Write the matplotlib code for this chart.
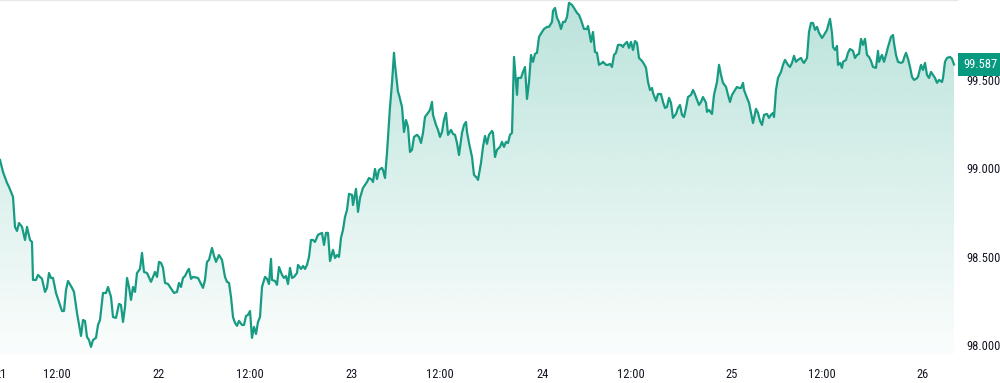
import numpy as np
import matplotlib
matplotlib.use("Agg")
import matplotlib.pyplot as plt
from matplotlib.patches import Polygon
from matplotlib.transforms import blended_transform_factory

# ---- data (bar position along the time axis, price) ----
bars = [0,3,7,9,13,15,17,19,22,25,27,30,32,33,36,38,42,45,47,49,51,53,56,59,62,64,66,68,72,74,77,81,83,85,87,89,91,93,96,98,
        100,103,106,108,111,113,116,119,121,123,125,127,129,131,133,135,137,140,142,144,147,151,153,155,157,159,161,163,165,168,
        172,174,177,179,181,183,185,188,189,191,193,198,203,205,207,209,212,214,216,219,222,225,227,229,231,233,235,237,239,242,
        244,246,248,250,252,254,256,258,260,262,265,267,269,271,272,275,277,279,282,284,286,288,290,292,294,297,298,301,303,305,
        307,309,311,313,315,318,322,324,326,328,330,333,335,337,339,341,343,345,347,349,352,353,356,358,360,363,367,369,372,373,
        375,377,379,382,383,385,387,390,392,394,395,398,399,402,404,406,408,410,412,414,417,419,421,423,425,428,430,432,433,436,
        438,440,442,444,446,448,451,453,455,457,459,462,464,466,467,469,472,474,477,478,481,483,485,487,489,492,493,495,497,500,
        502,504,506,508,510,512,514,517,518,521,523,525,527,529,531,533,535,537,539,542,544,547,549,552,553,555,557,559,561,563,
        565,567,569,572,574,577,579,581,584,587,588,591,593,595,597,599,602,603,606,608,610,612,614,616,618,621,623,624,627,629,
        631,633,635,637,639,642,644,646,648,650,652,653,656,658,661,663,665,667,669,671,673,676,678,680,682,684,686,688,691,693,
        694,697,699,701,703,706,707,709,712,714,717,719,721,723,726,728,730,732,735,737,739,741,743,744,747,749,751,753,756,758,
        760,762,764,767,769,771,773,774,776,778,781,783,785,788,790,792,794,796,798,801,803,804,807,809,811,813,815,817,819,822,
        824,827,828,830,832,833,835,837,838,840,842,843,846,848,850,853,855,857,859,861,863,865,867,869,871,873,876,878,879,881,
        882,884,886,888,891,893,894,896,898,901,903,904,906,908,910,912,914,916,918,921,923,925,927,929,931,933,935,937,939,942,
        943,945,947,950,952,954]

price = [99.047,98.979,98.917,98.894,98.838,98.668,98.645,98.690,98.668,98.594,98.668,98.594,98.583,98.368,98.368,98.396,98.374,98.300,98.323,98.407,
         98.379,98.379,98.294,98.243,98.192,98.192,98.311,98.362,98.323,98.300,98.181,98.051,98.141,98.136,98.045,98.028,97.989,98.028,98.040,98.113,
         98.141,98.294,98.294,98.328,98.272,98.158,98.153,98.232,98.226,98.130,98.215,98.379,98.328,98.255,98.328,98.300,98.407,98.430,98.521,98.413,
         98.407,98.357,98.385,98.413,98.385,98.470,98.464,98.436,98.351,98.345,98.311,98.294,98.300,98.351,98.328,98.379,98.390,98.424,98.430,98.374,
         98.385,98.379,98.323,98.368,98.470,98.481,98.549,98.504,98.470,98.509,98.481,98.385,98.357,98.351,98.272,98.158,98.125,98.108,98.136,98.113,
         98.113,98.164,98.170,98.192,98.040,98.102,98.062,98.130,98.158,98.328,98.385,98.374,98.345,98.487,98.368,98.362,98.340,98.441,98.396,98.379,
         98.390,98.345,98.436,98.379,98.385,98.407,98.453,98.430,98.447,98.430,98.453,98.498,98.594,98.594,98.583,98.623,98.634,98.566,98.634,98.634,
         98.475,98.538,98.492,98.509,98.498,98.606,98.651,98.724,98.764,98.855,98.849,98.792,98.883,98.753,98.832,98.889,98.922,98.945,98.934,98.922,
         98.996,98.939,98.990,99.002,98.990,98.945,99.087,99.347,99.483,99.653,99.585,99.432,99.415,99.347,99.205,99.273,99.234,99.092,99.104,99.177,
         99.189,99.177,99.143,99.200,99.290,99.313,99.330,99.375,99.302,99.245,99.217,99.177,99.205,99.273,99.313,99.189,99.217,99.194,99.189,99.143,
         99.075,99.200,99.245,99.262,99.205,99.143,99.064,98.962,98.945,98.934,99.030,99.121,99.183,99.138,99.189,99.211,99.200,99.064,99.104,99.121,
         99.149,99.121,99.149,99.143,99.189,99.200,99.630,99.415,99.511,99.511,99.545,99.573,99.392,99.488,99.641,99.602,99.647,99.653,99.743,99.771,
         99.788,99.800,99.800,99.828,99.890,99.907,99.851,99.828,99.788,99.828,99.828,99.856,99.936,99.924,99.907,99.879,99.868,99.839,99.788,99.788,
         99.805,99.715,99.771,99.658,99.653,99.585,99.596,99.602,99.585,99.585,99.590,99.573,99.641,99.653,99.698,99.698,99.686,99.698,99.715,99.681,
         99.715,99.669,99.720,99.709,99.624,99.607,99.590,99.568,99.488,99.443,99.454,99.426,99.381,99.420,99.420,99.375,99.341,99.347,99.398,99.370,
         99.285,99.307,99.341,99.358,99.302,99.290,99.341,99.403,99.415,99.443,99.432,99.387,99.358,99.375,99.403,99.370,99.319,99.330,99.307,99.415,
         99.488,99.585,99.528,99.483,99.460,99.415,99.375,99.415,99.443,99.460,99.454,99.454,99.483,99.443,99.398,99.370,99.313,99.256,99.336,99.313,
         99.268,99.245,99.302,99.307,99.285,99.302,99.313,99.290,99.443,99.511,99.545,99.585,99.613,99.585,99.573,99.596,99.636,99.602,99.613,99.624,
         99.602,99.596,99.624,99.771,99.822,99.822,99.783,99.800,99.766,99.737,99.754,99.783,99.805,99.845,99.766,99.686,99.669,99.692,99.585,99.596,
         99.568,99.602,99.613,99.653,99.675,99.664,99.624,99.641,99.647,99.732,99.698,99.732,99.641,99.630,99.607,99.573,99.568,99.664,99.602,99.630,
         99.641,99.602,99.641,99.686,99.743,99.754,99.709,99.641,99.602,99.596,99.602,99.624,99.653,99.619,99.573,99.517,99.500,99.505,99.517,99.585,
         99.556,99.596,99.528,99.511,99.545,99.528,99.511,99.483,99.500,99.488,99.511,99.602,99.624,99.630,99.619,99.587]

tick_pos = [1, 57, 159, 250, 352, 440, 543, 631, 732, 822, 923]
tick_labels = ["21", "12:00", "22", "12:00", "23", "12:00", "24", "12:00", "25", "12:00", "26"]
y_ticks = [98.0, 98.5, 99.0, 99.5]
last_label = "99.587"

# ---- style ----
LINE = "#179b83"
BOX = "#089981"
TXT = "#131722"
plt.rcParams["font.family"] = ["Roboto Condensed", "DejaVu Sans"]
plt.rcParams["font.stretch"] = "condensed"
FS = 9

W, H = 1000, 383
fig = plt.figure(figsize=(W / 100, H / 100), dpi=100)
fig.patch.set_facecolor("white")
ax = fig.add_axes([0, 28 / H, 957 / W, 355 / H])
ax.set_facecolor("white")

ymin, ymax = 97.943, 99.952
ax.set_xlim(0, 957)
ax.set_ylim(ymin, ymax)

x = np.array(bars, dtype=float)
y = np.array(price, dtype=float)

# gradient fill under the line
n = 256
alphas = np.linspace(0.02, 0.31, n)
rgb = np.array(matplotlib.colors.to_rgb("#22a58a"))
grad = np.zeros((n, 1, 4))
grad[:, 0, :3] = rgb
grad[:, 0, 3] = alphas
im = ax.imshow(grad, extent=[x[0], x[-1], ymin, y.max()], origin="lower",
               aspect="auto", interpolation="bilinear", zorder=1)
verts = np.vstack([np.column_stack([x, y]), [[x[-1], ymin], [x[0], ymin]]])
poly = Polygon(verts, closed=True, facecolor="none", edgecolor="none")
ax.add_patch(poly)
im.set_clip_path(poly)

ax.plot(x, y, color=LINE, lw=1.6, zorder=3, solid_joinstyle="round")

# axes styling
for s in ["left", "right", "bottom"]:
    ax.spines[s].set_visible(False)
ax.spines["top"].set_color("#e6e8ee")
ax.spines["top"].set_linewidth(1.0)

ax.set_xticks(tick_pos)
ax.set_xticklabels(tick_labels)
ax.tick_params(axis="x", length=0, pad=9, labelsize=FS, labelcolor=TXT)

ax.yaxis.tick_right()
ax.set_yticks(y_ticks)
ax.set_yticklabels([f"{v:.3f}" for v in y_ticks])
ax.tick_params(axis="y", length=0, pad=7, labelsize=FS, labelcolor=TXT)
for lab in ax.get_yticklabels():
    lab.set_horizontalalignment("left")

# last price label
tr = blended_transform_factory(ax.transAxes, ax.transData)
ax.text(1.0 + 6 / 957, y[-1], last_label, transform=tr, ha="left", va="center",
        color="white", fontsize=FS, clip_on=False, zorder=10,
        bbox=dict(boxstyle="square,pad=0.38", fc=BOX, ec="none"))

fig.savefig("out.png", dpi=100, facecolor="white")
